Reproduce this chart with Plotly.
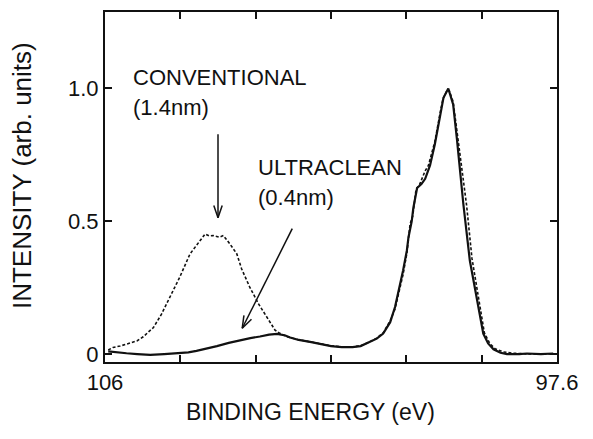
import math
import plotly.graph_objects as go

# ---- data ----
ultra_E = [105.94, 105.75, 105.60, 105.40, 105.16, 104.90, 104.61, 104.45, 104.30, 104.10,
           103.92, 103.70, 103.49, 103.30, 103.12, 102.95, 102.80, 102.65, 102.56, 102.40,
           102.19, 102.00, 101.80, 101.60, 101.40, 101.25, 101.08, 100.95, 100.83, 100.70,
           100.61, 100.55, 100.46, 100.39, 100.36, 100.30, 100.27, 100.20, 100.12, 100.05,
           99.96, 99.87, 99.77, 99.71, 99.62, 99.53, 99.46, 99.40, 99.34, 99.22,
           99.09, 98.97, 98.88, 98.78, 98.65, 98.53, 98.30, 98.16, 97.90, 97.67]
ultra_I = [0.010, 0.005, 0.003, 0.000, -0.003, 0.000, 0.003, 0.006, 0.012, 0.020,
           0.030, 0.042, 0.052, 0.060, 0.066, 0.073, 0.076, 0.070, 0.062, 0.053,
           0.046, 0.038, 0.030, 0.026, 0.026, 0.030, 0.045, 0.058, 0.077, 0.120,
           0.177, 0.230, 0.315, 0.390, 0.440, 0.500, 0.550, 0.625, 0.640, 0.660,
           0.710, 0.790, 0.900, 0.965, 1.000, 0.940, 0.810, 0.690, 0.564, 0.352,
           0.202, 0.077, 0.040, 0.018, 0.005, 0.000, 0.000, 0.002, 0.000, 0.002]

conv_E = [105.94, 105.85, 105.72, 105.54, 105.40, 105.29, 105.10, 104.95, 104.79, 104.61,
          104.42, 104.23, 104.14, 104.06, 103.99, 103.88, 103.80, 103.68, 103.55, 103.46,
          103.31, 103.15, 103.00, 102.84, 102.75, 102.60, 102.40, 102.19, 102.00, 101.80,
          101.60, 101.40, 101.25, 101.08, 100.95, 100.83, 100.70, 100.61, 100.55, 100.46,
          100.39, 100.33, 100.28, 100.22, 100.15, 100.05, 99.99, 99.87, 99.77, 99.72,
          99.64, 99.60, 99.53, 99.46, 99.38, 99.28, 99.18, 99.05, 98.95, 98.85,
          98.75, 98.60, 98.40, 98.10, 97.67]
conv_I = [0.015, 0.025, 0.030, 0.040, 0.050, 0.065, 0.100, 0.150, 0.215, 0.290,
          0.377, 0.427, 0.452, 0.445, 0.446, 0.440, 0.446, 0.415, 0.377, 0.320,
          0.252, 0.190, 0.140, 0.090, 0.078, 0.064, 0.054, 0.047, 0.039, 0.031,
          0.027, 0.027, 0.031, 0.046, 0.060, 0.080, 0.125, 0.170, 0.220, 0.300,
          0.380, 0.490, 0.520, 0.620, 0.640, 0.690, 0.710, 0.800, 0.910, 0.960,
          0.995, 0.990, 0.950, 0.840, 0.700, 0.560, 0.360, 0.200, 0.080, 0.040,
          0.020, 0.008, 0.003, 0.000, 0.000]

x_tickvals = [106, 104.6, 103.2, 101.8, 100.4, 99.0, 97.6]
x_ticktext = ["106", "", "", "", "", "", "97.6"]
y_tickvals = [0, 0.5, 1.0]
y_ticktext = ["0", "0.5", "1.0"]

X_RANGE = [106, 97.6]
Y_RANGE = [-0.03, 1.288]

# page geometry: the page body adds an 8 px offset
OFF = 8
PL, PT, PW, PH = 105, 10, 452, 352          # plot area in window pixels
W, H = 593 - OFF, 439 - OFF
ML, MT = PL - OFF, PT - OFF
MR = W - ML - PW
MB = H - MT - PH

FONT = "Liberation Sans, Arial, sans-serif"
INK = "#111111"

def to_px(E, I):
    px = PL + (E - X_RANGE[0]) / (X_RANGE[1] - X_RANGE[0]) * PW
    py = PT + (Y_RANGE[1] - I) / (Y_RANGE[1] - Y_RANGE[0]) * PH
    return px, py

def to_data(px, py):
    E = X_RANGE[0] + (px - PL) / PW * (X_RANGE[1] - X_RANGE[0])
    I = Y_RANGE[1] - (py - PT) / PH * (Y_RANGE[1] - Y_RANGE[0])
    return E, I

def to_paper(px, py):
    return (px - PL) / PW, 1 - (py - PT) / PH

fig = go.Figure()
fig.add_trace(go.Scatter(x=conv_E, y=conv_I, mode="lines",
                         line=dict(color=INK, width=1.6, dash="3px,2px"),
                         name="CONVENTIONAL", showlegend=False))
fig.add_trace(go.Scatter(x=ultra_E, y=ultra_I, mode="lines",
                         line=dict(color=INK, width=2.2),
                         name="ULTRACLEAN", showlegend=False))

# arrows (tail -> head) in data coordinates
arrows = [((103.90, 0.828), (103.90, 0.513)),
          ((102.52, 0.472), (103.45, 0.097))]
shapes = []
for (tE, tI), (hE, hI) in arrows:
    tx, ty = to_px(tE, tI)
    hx, hy = to_px(hE, hI)
    shapes.append(dict(type="line", xref="x", yref="y", x0=tE, y0=tI, x1=hE, y1=hI,
                       line=dict(color=INK, width=1.5)))
    ang = math.atan2(ty - hy, tx - hx)
    for d in (0.33, -0.33):
        bx = hx + 13 * math.cos(ang + d)
        by = hy + 13 * math.sin(ang + d)
        bE, bI = to_data(bx, by)
        shapes.append(dict(type="line", xref="x", yref="y", x0=hE, y0=hI, x1=bE, y1=bI,
                           line=dict(color=INK, width=1.5)))

labels = [("CONVENTIONAL", 105.50, 1.04), ("(1.4nm)", 105.50, 0.93),
          ("ULTRACLEAN", 103.18, 0.704), ("(0.4nm)", 103.18, 0.59)]
annotations = []
for txt, e, i in labels:
    annotations.append(dict(text=txt, x=e, y=i, xref="x", yref="y", showarrow=False,
                            xanchor="left", yanchor="middle", borderpad=0,
                            font=dict(family=FONT, size=22, color=INK)))

xt_x, xt_y = to_paper(310, 412)
annotations.append(dict(text="BINDING ENERGY (eV)", x=xt_x, y=xt_y,
                        xref="paper", yref="paper", showarrow=False,
                        xanchor="center", yanchor="middle",
                        font=dict(family=FONT, size=23, color=INK)))
yt_x, yt_y = to_paper(22, 175)
annotations.append(dict(text="INTENSITY (arb. units)", x=yt_x, y=yt_y,
                        xref="paper", yref="paper", showarrow=False, textangle=-90,
                        xanchor="center", yanchor="middle",
                        font=dict(family=FONT, size=26, color=INK)))

axis_common = dict(showline=True, linecolor=INK, linewidth=2, mirror="ticks",
                   ticks="inside", ticklen=7, tickwidth=1.5, tickcolor=INK,
                   showgrid=False, zeroline=False,
                   tickfont=dict(family=FONT, size=22, color=INK))

fig.update_layout(
    width=W, height=H,
    margin=dict(l=ML, r=MR, t=MT, b=MB),
    paper_bgcolor="white", plot_bgcolor="white",
    xaxis=dict(range=X_RANGE, tickvals=x_tickvals, ticktext=x_ticktext, **axis_common),
    yaxis=dict(range=Y_RANGE, tickvals=y_tickvals, ticktext=y_ticktext, **axis_common),
    shapes=shapes, annotations=annotations,
)

fig.write_html("out.html")
